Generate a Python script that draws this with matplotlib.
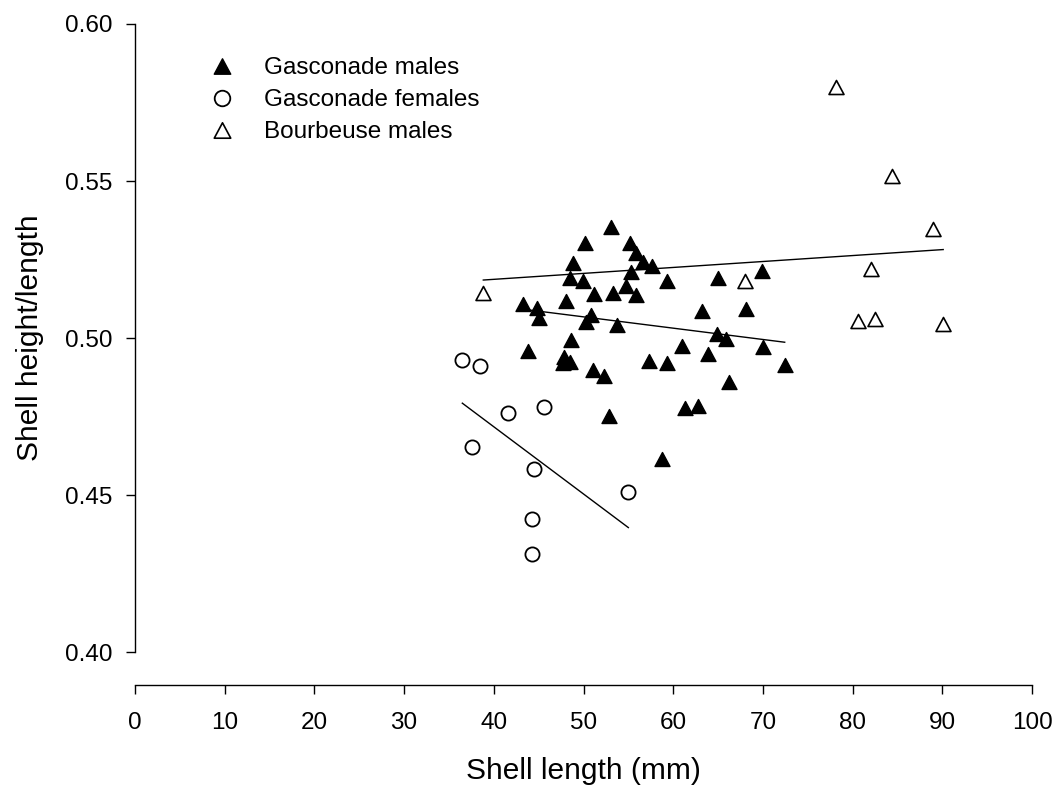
import matplotlib
matplotlib.use("Agg")
import matplotlib.pyplot as plt
from matplotlib.path import Path
import numpy as np

plt.rcParams['font.family'] = ['Liberation Sans', 'DejaVu Sans']

# ---- data ----
gm_len = [43.29, 44.78, 45.04, 43.76, 48.05, 48.49, 48.86, 49.94, 50.20, 51.17,
          53.07, 53.26, 55.22, 55.82, 56.60, 57.60, 55.26, 54.74, 55.80, 50.87,
          50.28, 53.70, 48.66, 47.86, 48.49, 47.75, 51.03, 52.29, 52.84, 58.78,
          59.28, 64.96, 69.87, 63.18, 68.15, 64.85, 65.89, 60.98, 70.04, 63.88,
          57.27, 59.34, 72.43, 66.25, 61.35, 62.80]
gm_ratio = [0.5109, 0.5095, 0.5064, 0.4959, 0.5118, 0.5190, 0.5240, 0.5183, 0.5302, 0.5141,
            0.5355, 0.5145, 0.5304, 0.5272, 0.5243, 0.5231, 0.5212, 0.5167, 0.5137, 0.5074,
            0.5052, 0.5042, 0.4994, 0.4939, 0.4925, 0.4920, 0.4899, 0.4881, 0.4752, 0.4614,
            0.5181, 0.5191, 0.5213, 0.5085, 0.5093, 0.5013, 0.4997, 0.4974, 0.4971, 0.4951,
            0.4926, 0.4921, 0.4915, 0.4862, 0.4777, 0.4783]

gf_len = [36.49, 38.49, 41.55, 45.56, 37.60, 44.45, 54.96, 44.26, 44.26]
gf_ratio = [0.4931, 0.4910, 0.4761, 0.4781, 0.4655, 0.4585, 0.4509, 0.4424, 0.4313]

bm_len = [78.15, 84.36, 89.00, 82.05, 67.97, 80.57, 82.46, 90.04, 38.80]
bm_ratio = [0.5800, 0.5516, 0.5349, 0.5221, 0.5183, 0.5056, 0.5061, 0.5045, 0.5145]

# regression line end points (x, y)
gm_fit_x = [43.29, 72.43]
gm_fit_y = [0.5092, 0.4987]
gf_fit_x = [36.49, 55.00]
gf_fit_y = [0.4793, 0.4397]
bm_fit_x = [38.83, 90.10]
bm_fit_y = [0.5185, 0.5282]

labels = ["Gasconade males", "Gasconade females", "Bourbeuse males"]
x_ticks = list(range(0, 101, 10))
y_ticks = [0.40, 0.45, 0.50, 0.55, 0.60]

# ---- figure ----
W, H = 1055, 789
fig = plt.figure(figsize=(W / 100, H / 100), dpi=100)
left, right = 135 / W, 1032 / W
top, bottom = 1 - 24 / H, 1 - 652.3 / H
ax = fig.add_axes([left, bottom, right - left, top - bottom])

tri = Path([(0, 0.467), (-0.5, -0.467), (0.5, -0.467), (0, 0.467)],
           [Path.MOVETO, Path.LINETO, Path.LINETO, Path.CLOSEPOLY])
ms = 10.8
ax.plot(gm_len, gm_ratio, ls='none', marker=tri, ms=ms, mfc='black', mec='black',
        mew=1.0, label=labels[0], zorder=3)
ax.plot(gf_len, gf_ratio, ls='none', marker='o', ms=10.2, mfc='white', mec='black',
        mew=1.3, label=labels[1], zorder=3)
ax.plot(bm_len, bm_ratio, ls='none', marker=tri, ms=ms, mfc='white', mec='black',
        mew=1.2, label=labels[2], zorder=3)

for fx, fy in [(gm_fit_x, gm_fit_y), (gf_fit_x, gf_fit_y), (bm_fit_x, bm_fit_y)]:
    ax.plot(fx, fy, color='black', lw=1.0, zorder=2)

ax.set_xlim(0, 100)
ax.set_ylim(0.40, 0.60)
ax.set_xticks(x_ticks)
ax.set_yticks(y_ticks)
ax.set_xticklabels([str(v) for v in x_ticks])
ax.set_yticklabels([f"{v:.2f}" for v in y_ticks])

for s in ['top', 'right']:
    ax.spines[s].set_visible(False)
ax.spines['bottom'].set_position(('outward', 32.4 * 0.72))
for s in ['left', 'bottom']:
    ax.spines[s].set_linewidth(1.0)
ax.tick_params(axis='both', direction='out', length=6.5, width=1.0,
               labelsize=17.5, color='black')
ax.tick_params(axis='y', pad=10)
ax.tick_params(axis='x', pad=13.5)

ax.set_xlabel("Shell length (mm)", fontsize=21.5, labelpad=16)
ax.set_ylabel("Shell height/length", fontsize=21.5, labelpad=15)

leg = ax.legend(loc='upper left', bbox_to_anchor=(209.5 / W, 1 - 57 / H),
                bbox_transform=fig.transFigure, frameon=False, fontsize=17.5,
                handlelength=1.0, handletextpad=1.23, labelspacing=0.42,
                borderpad=0, borderaxespad=0, markerscale=1.1)

fig.savefig("out.png", dpi=100)
